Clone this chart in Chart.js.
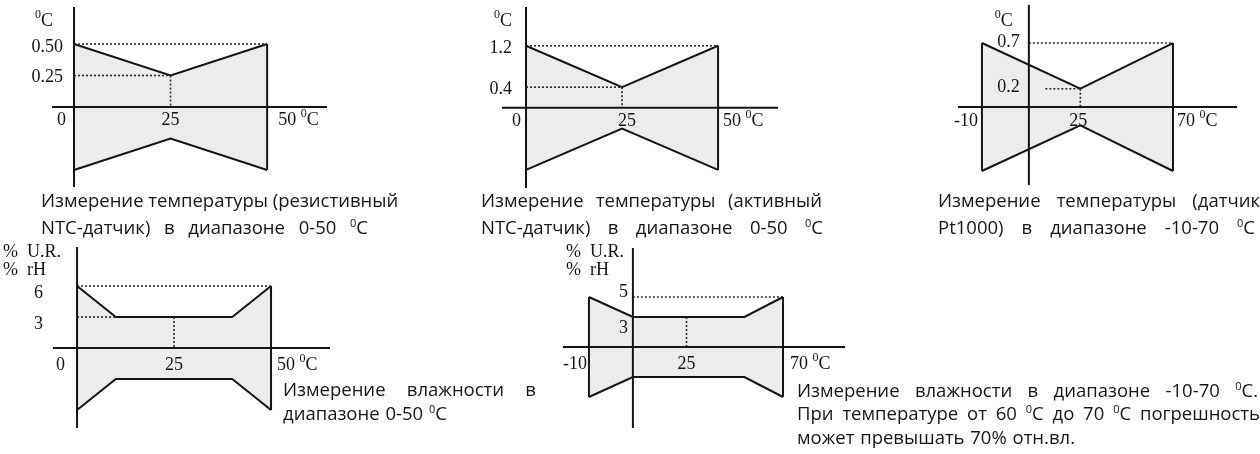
<!DOCTYPE html>
<html lang="ru">
<head>
<meta charset="UTF-8">
<title>Погрешность измерения температуры и влажности</title>
<style>
  body {
    margin: 0;
    width: 1260px;
    height: 454px;
    overflow: hidden;
    position: relative;
    background: #fff;
    font-family: "Open Sans", sans-serif;
  }
  canvas.layer { position: absolute; left: 0; top: 0; }
  .cap {
    position: absolute;
    font-size: 18.5px;
    line-height: 20px;
    color: #161616;
    white-space: nowrap;
    text-align: justify;
    text-align-last: justify;
  }
  .cap sup { font-size: 11px; line-height: 0; vertical-align: 7px; }
</style>
</head>
<body>
<canvas class="layer" id="c1" width="1260" height="454"></canvas>
<canvas class="layer" id="c2" width="1260" height="454"></canvas>
<canvas class="layer" id="c3" width="1260" height="454"></canvas>
<canvas class="layer" id="c4" width="1260" height="454"></canvas>
<canvas class="layer" id="c5" width="1260" height="454"></canvas>

<div class="cap" style="left:41px;top:190px;width:356px">Измерение температуры (резистивный</div>
<div class="cap" style="left:41px;top:217px;width:327px">NTC-датчик) в диапазоне 0-50 <sup>0</sup>C</div>
<div class="cap" style="left:481px;top:190px;width:341px">Измерение температуры (активный</div>
<div class="cap" style="left:481px;top:217px;width:342px">NTC-датчик) в диапазоне 0-50 <sup>0</sup>C</div>
<div class="cap" style="left:938px;top:190px;width:322px">Измерение температуры (датчик</div>
<div class="cap" style="left:938px;top:217px;width:317px">Pt1000) в диапазоне -10-70 <sup>0</sup>C</div>
<div class="cap" style="left:283px;top:379px;width:253px">Измерение влажности в</div>
<div class="cap" style="left:283px;top:403px;width:164px">диапазоне 0-50 <sup>0</sup>C</div>
<div class="cap" style="left:797px;top:380px;width:461px">Измерение влажности в диапазоне -10-70 <sup>0</sup>C.</div>
<div class="cap" style="left:797px;top:403px;width:463px">При температуре от 60 <sup>0</sup>C до 70 <sup>0</sup>C погрешность</div>
<div class="cap" style="left:797px;top:427px;width:278px">может превышать 70% отн.вл.</div>

<script src="https://cdn.jsdelivr.net/npm/chart.js"></script>
<script>
// температура, резистивный NTC, 0-50
const ntcResX = [0, 25, 50];
const ntcResErr = [0.5, 0.25, 0.5];
const ntcResXTicks = [0, 25, 50];
const ntcResXLabels = ['0', '25', '50 ⁰C'];
const ntcResYTicks = [0.5, 0.25];
const ntcResYLabels = ['0.50', '0.25'];
const ntcResGuides = [[[0, 0.5], [50, 0.5]], [[0, 0.25], [25, 0.25]], [[25, 0.25], [25, 0]]];

// температура, активный NTC, 0-50
const ntcActX = [0, 25, 50];
const ntcActErr = [1.2, 0.4, 1.2];
const ntcActXTicks = [0, 25, 50];
const ntcActXLabels = ['0', '25', '50 ⁰C'];
const ntcActYTicks = [1.2, 0.4];
const ntcActYLabels = ['1.2', '0.4'];
const ntcActGuides = [[[0, 1.2], [50, 1.2]], [[0, 0.4], [25, 0.4]], [[25, 0.4], [25, 0]]];

// температура, Pt1000, -10-70
const ptX = [-10, 25, 70];
const ptErr = [0.7, 0.2, 0.7];
const ptXTicks = [-10, 25, 70];
const ptXLabels = ['-10', '25', '70 ⁰C'];
const ptYTicks = [0.7, 0.2];
const ptYLabels = ['0.7', '0.2'];
const ptGuides = [[[0, 0.7], [70, 0.7]], [[8, 0.2], [25, 0.2]], [[25, 0.2], [25, 0]]];

// влажность, 0-50
const rh50X = [0, 10, 40, 50];
const rh50Err = [6, 3, 3, 6];
const rh50XTicks = [0, 25, 50];
const rh50XLabels = ['0', '25', '50 ⁰C'];
const rh50YTicks = [6, 3];
const rh50YLabels = ['6', '3'];
const rh50Guides = [[[0, 6], [50, 6]], [[0, 3], [10, 3]], [[25, 3], [25, 0]]];

// влажность, -10-70
const rh70X = [-10, 0, 52, 70];
const rh70Err = [5, 3, 3, 5];
const rh70XTicks = [-10, 25, 70];
const rh70XLabels = ['-10', '25', '70 ⁰C'];
const rh70YTicks = [5, 3];
const rh70YLabels = ['5', '3'];
const rh70Guides = [[[0, 5], [70, 5]], [[25, 3], [25, 0]]];

const INK = '#141414';
const FILL = '#ececec';
const SERIF = '"Liberation Serif", "DejaVu Serif", serif';

// linear scale whose negative side is stretched (the drawings are schematic)
class PiecewiseScale extends Chart.LinearScale {
  toVirtual(v) {
    const k = this.options.negStretch || 1;
    return v < 0 ? v * k : v;
  }
  getPixelForValue(value) {
    if (value === null || value === undefined) return NaN;
    const a = this.toVirtual(this.min), b = this.toVirtual(this.max);
    return this.getPixelForDecimal((this.toVirtual(value) - a) / (b - a));
  }
  getValueForPixel(pixel) {
    const k = this.options.negStretch || 1;
    const a = this.toVirtual(this.min), b = this.toVirtual(this.max);
    const u = a + this.getDecimalForPixel(pixel) * (b - a);
    return u < 0 ? u / k : u;
  }
}
PiecewiseScale.id = 'piecewise';
PiecewiseScale.defaults = Chart.LinearScale.defaults;
Chart.register(PiecewiseScale);

function drawText(ctx, text, x, y, align) {
  const pieces = [];
  text.split('⁰').forEach((p, i) => {
    if (i > 0) pieces.push({ t: '0', f: '12px ' + SERIF, dy: -6 });
    if (p) pieces.push({ t: p, f: '18px ' + SERIF, dy: 0 });
  });
  let w = 0;
  pieces.forEach(pc => { ctx.font = pc.f; pc.w = ctx.measureText(pc.t).width; w += pc.w; });
  let cx = align === 'right' ? x - w : align === 'center' ? x - w / 2 : x;
  ctx.textAlign = 'left';
  ctx.textBaseline = 'middle';
  ctx.fillStyle = INK;
  pieces.forEach(pc => { ctx.font = pc.f; ctx.fillText(pc.t, cx, y + pc.dy); cx += pc.w; });
}

function makeChart(id, spec) {
  const pts = sign => spec.x.map((x, i) => ({ x: x, y: sign * spec.err[i] }));
  const datasets = [
    { data: pts(1), borderColor: INK, borderWidth: 2, fill: false, order: 1 },
    { data: pts(-1), borderColor: INK, borderWidth: 2, fill: '-1', backgroundColor: FILL, order: 1 }
  ];
  spec.edges.forEach(i => datasets.push({
    data: [{ x: spec.x[i], y: spec.err[i] }, { x: spec.x[i], y: -spec.err[i] }],
    borderColor: INK, borderWidth: 2, order: 0
  }));
  spec.guides.forEach(g => datasets.push({
    data: [{ x: g[0][0], y: g[0][1] }, { x: g[1][0], y: g[1][1] }],
    borderColor: '#2a2a2a', borderWidth: 1.6, borderDash: [2, 2], order: -1
  }));

  const sketch = {
    id: 'sketch',
    afterDatasetsDraw(chart) {
      const ctx = chart.ctx, a = chart.chartArea;
      const xs = chart.scales.x, ys = chart.scales.y;
      const ax = xs.getPixelForValue(0), ay = ys.getPixelForValue(0);
      ctx.save();
      ctx.strokeStyle = INK;
      ctx.lineWidth = 2;
      ctx.beginPath();
      ctx.moveTo(a.left, ay); ctx.lineTo(a.right, ay);
      ctx.moveTo(ax, a.top); ctx.lineTo(ax, a.bottom);
      ctx.stroke();

      spec.xTicks.forEach((v, i) => {
        drawText(ctx, spec.xLabels[i], xs.getPixelForValue(v) + spec.xLab.dx[i], ay + spec.xLab.dy, spec.xLab.align[i]);
      });
      spec.yTicks.forEach((v, i) => {
        drawText(ctx, spec.yLabels[i], ax + spec.yLab.dx, ys.getPixelForValue(v) + spec.yLab.dy[i], 'right');
      });
      spec.units.forEach(u => drawText(ctx, u.text, ax + u.dx, a.top + u.dy, u.align));
      ctx.restore();
    }
  };

  const ar = spec.area;
  new Chart(document.getElementById(id), {
    type: 'line',
    data: { datasets: datasets },
    options: {
      responsive: false,
      animation: false,
      events: [],
      layout: { padding: { left: ar[0], top: ar[1], right: 1260 - ar[2], bottom: 454 - ar[3] } },
      elements: { point: { radius: 0 }, line: { tension: 0 } },
      plugins: { legend: { display: false }, tooltip: { enabled: false } },
      scales: {
        x: { type: 'piecewise', display: false, bounds: 'data', min: spec.xr[0], max: spec.xr[1], negStretch: spec.stretch },
        y: { type: 'linear', display: false, bounds: 'data', min: spec.yr[0], max: spec.yr[1] }
      }
    },
    plugins: [sketch]
  });
}

makeChart('c1', {
  area: [52, 7, 327, 187], xr: [-5.7, 65.5], yr: [-0.635, 0.794], stretch: 1,
  x: ntcResX, err: ntcResErr, edges: [2], guides: ntcResGuides,
  xTicks: ntcResXTicks, xLabels: ntcResXLabels,
  xLab: { dy: 13, dx: [-8, 0, 11], align: ['right', 'center', 'left'] },
  yTicks: ntcResYTicks, yLabels: ntcResYLabels, yLab: { dx: -11, dy: [3, 2] },
  units: [{ text: '⁰C', dx: -21, dy: 14, align: 'right' }]
});

makeChart('c2', {
  area: [502, 7, 778, 188], xr: [-6.25, 65.6], yr: [-1.55, 1.95], stretch: 1,
  x: ntcActX, err: ntcActErr, edges: [2], guides: ntcActGuides,
  xTicks: ntcActXTicks, xLabels: ntcActXLabels,
  xLab: { dy: 13, dx: [-5, 5, 5], align: ['right', 'center', 'left'] },
  yTicks: ntcActYTicks, yLabels: ntcActYLabels, yLab: { dx: -14, dy: [2, 2] },
  units: [{ text: '⁰C', dx: -14, dy: 14, align: 'right' }]
});

makeChart('c3', {
  area: [958, 5, 1237, 185], xr: [-15.1, 101.1], yr: [-0.853, 1.116], stretch: 2.28,
  x: ptX, err: ptErr, edges: [0, 2], guides: ptGuides,
  xTicks: ptXTicks, xLabels: ptXLabels,
  xLab: { dy: 14, dx: [-4, -2, 4], align: ['right', 'center', 'left'] },
  yTicks: ptYTicks, yLabels: ptYLabels, yLab: { dx: -9, dy: [-1, -1] },
  units: [{ text: '⁰C', dx: -16, dy: 16, align: 'right' }]
});

makeChart('c4', {
  area: [53, 247, 330, 428], xr: [-6.2, 65.2], yr: [-7.74, 9.78], stretch: 1,
  x: rh50X, err: rh50Err, edges: [3], guides: rh50Guides,
  xTicks: rh50XTicks, xLabels: rh50XLabels,
  xLab: { dy: 17, dx: [-12, 0, 6], align: ['right', 'center', 'left'] },
  yTicks: rh50YTicks, yLabels: rh50YLabels, yLab: { dx: -34, dy: [7, 7] },
  units: [
    { text: '%  U.R.', dx: -74, dy: 5, align: 'left' },
    { text: '%  rH', dx: -74, dy: 23, align: 'left' }
  ]
});

makeChart('c5', {
  area: [563, 248, 845, 428], xr: [-15.9, 98.9], yr: [-8.1, 9.9], stretch: 2.05,
  x: rh70X, err: rh70Err, edges: [0, 3], guides: rh70Guides,
  xTicks: rh70XTicks, xLabels: rh70XLabels,
  xLab: { dy: 17, dx: [-2, 0, 7], align: ['right', 'center', 'left'] },
  yTicks: rh70YTicks, yLabels: rh70YLabels, yLab: { dx: -5, dy: [-5, 11] },
  units: [
    { text: '%  U.R.', dx: -67, dy: 4, align: 'left' },
    { text: '%  rH', dx: -67, dy: 22, align: 'left' }
  ]
});
</script>
</body>
</html>
